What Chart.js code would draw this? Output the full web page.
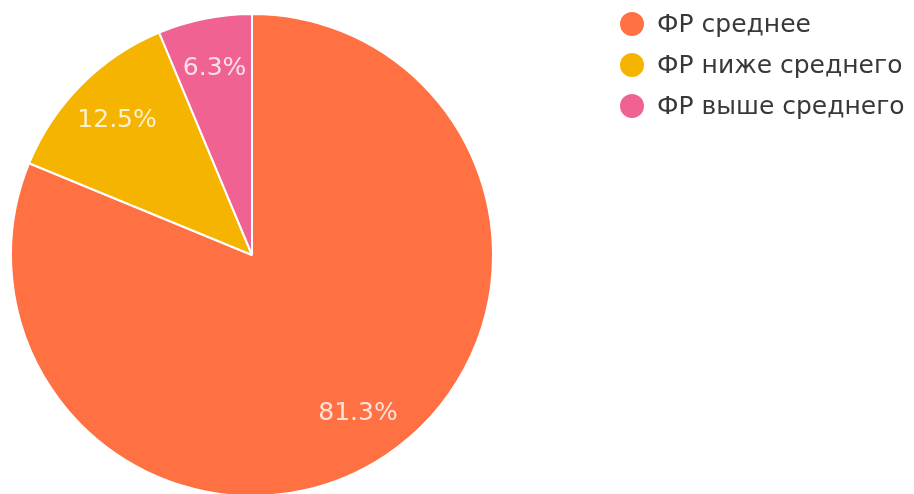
<!DOCTYPE html>
<html>
<head>
<meta charset="utf-8">
<script src="https://cdn.jsdelivr.net/npm/chart.js@4.4.1/dist/chart.umd.min.js"></script>
<style>
  html, body { margin: 0; padding: 0; background: #fff; overflow: hidden; }
  #wrap { position: relative; width: 914px; height: 497px; }
  #legend { position: absolute; left: 620px; top: 3px; font-family: "DejaVu Sans", sans-serif; font-size: 25px; color: #383838; }
  .item { display: flex; align-items: center; height: 41px; margin: 0; }
  .dot { width: 24px; height: 24px; border-radius: 50%; margin-right: 13px; flex: none; }
</style>
</head>
<body>
<div id="wrap">
  <canvas id="c"></canvas>
  <div id="legend"></div>
</div>
<script>
const categories = ["ФР среднее", "ФР ниже среднего", "ФР выше среднего"];
const values = [81.3, 12.5, 6.3];
const colors = ["#FF7043", "#F4B400", "#F06292"];

const legendEl = document.getElementById('legend');
categories.forEach((c, i) => {
  const it = document.createElement('div');
  it.className = 'item';
  const d = document.createElement('span');
  d.className = 'dot';
  d.style.background = colors[i];
  const t = document.createElement('span');
  t.textContent = c;
  it.appendChild(d); it.appendChild(t);
  legendEl.appendChild(it);
});

const sliceLabels = {
  id: 'sliceLabels',
  afterDatasetsDraw(chart) {
    const ctx = chart.ctx;
    const meta = chart.getDatasetMeta(0);
    ctx.save();
    ctx.font = '25px "DejaVu Sans", sans-serif';
    ctx.fillStyle = 'rgba(255,255,255,0.8)';
    ctx.textAlign = 'center';
    ctx.textBaseline = 'middle';
    meta.data.forEach((arc, i) => {
      const p = arc.getProps(['x', 'y', 'startAngle', 'endAngle', 'outerRadius'], true);
      const mid = (p.startAngle + p.endAngle) / 2;
      const r = p.outerRadius * 0.79;
      ctx.fillText(values[i].toFixed(1) + '%', p.x + Math.cos(mid) * r, p.y + Math.sin(mid) * r);
    });
    ctx.restore();
  }
};

new Chart(document.getElementById('c'), {
  type: 'pie',
  data: {
    labels: categories,
    datasets: [{
      data: values,
      backgroundColor: colors,
      borderColor: '#ffffff',
      borderWidth: 2
    }]
  },
  options: {
    responsive: true,
    maintainAspectRatio: false,
    animation: false,
    layout: { padding: { left: 0, right: 410, top: 13, bottom: 0 } },
    plugins: {
      legend: { display: false },
      tooltip: { enabled: false }
    }
  },
  plugins: [sliceLabels]
});
</script>
</body>
</html>
